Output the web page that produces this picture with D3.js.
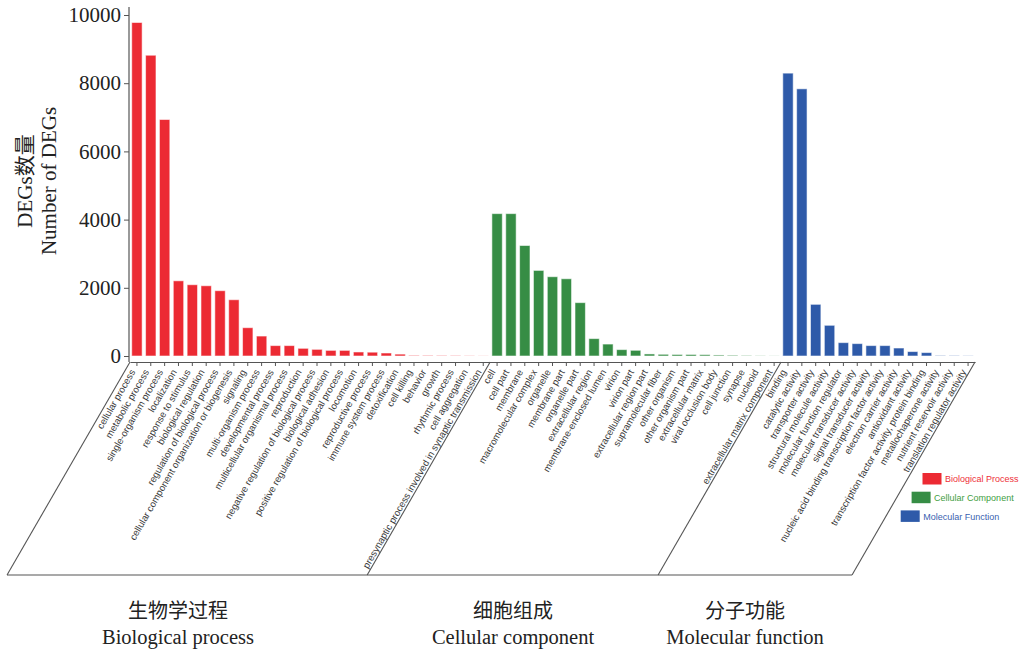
<!DOCTYPE html>
<html>
<head>
<meta charset="utf-8">
<script src="https://cdn.jsdelivr.net/npm/d3@7/dist/d3.min.js"></script>
<style>
  html, body { margin: 0; padding: 0; background: #fff; }
  svg { display: block; }
</style>
</head>
<body>
<svg id="chart" width="1023" height="654"></svg>
<script>
// GO annotation of DEGs: three ontology groups
const bpTerms = [
  "cellular process", "metabolic process", "single-organism process", "localization",
  "response to stimulus", "biological regulation", "regulation of biological process",
  "cellular component organization or biogenesis", "signaling", "multi-organism process",
  "developmental process", "multicellular organismal process", "reproduction",
  "negative regulation of biological process", "biological adhesion",
  "positive regulation of biological process", "locomotion", "reproductive process",
  "immune system process", "detoxification", "cell killing", "behavior", "growth",
  "rhythmic process", "cell aggregation", "presynaptic process involved in synaptic transmission"
];
const bpValues = [9780, 8820, 6935, 2205, 2090, 2060, 1915, 1650, 830, 585, 305, 305, 225,
  195, 165, 165, 118, 112, 88, 55, 15, 12, 10, 8, 5, 3];

const ccTerms = [
  "cell", "cell part", "membrane", "macromolecular complex", "organelle", "membrane part",
  "organelle part", "extracellular region", "membrane-enclosed lumen", "virion", "virion part",
  "extracellular region part", "supramolecular fiber", "other organism", "other organism part",
  "extracellular matrix", "viral occlusion body", "cell junction", "synapse", "nucleoid",
  "extracellular matrix component"
];
const ccValues = [4175, 4175, 3240, 2510, 2325, 2265, 1565, 510, 350, 187, 167, 60, 50, 45,
  45, 40, 30, 20, 10, 5, 3];

const mfTerms = [
  "binding", "catalytic activity", "transporter activity", "structural molecule activity",
  "molecular function regulator", "molecular transducer activity", "signal transducer activity",
  "nucleic acid binding transcription factor activity", "electron carrier activity",
  "antioxidant activity", "transcription factor activity, protein binding",
  "metallochaperone activity", "nutrient reservoir activity", "translation regulator activity"
];
const mfValues = [8295, 7835, 1515, 900, 392, 363, 305, 305, 234, 130, 100, 10, 8, 5];

const yTicks = [0, 2000, 4000, 6000, 8000, 10000];
const groupNames = ["Biological Process", "Cellular Component", "Molecular Function"];
const groupTitlesZh = ["生物学过程", "细胞组成", "分子功能"];
const groupTitlesEn = ["Biological process", "Cellular component", "Molecular function"];
const yTitleZh = "DEGs数量";
const yTitleEn = "Number of DEGs";

const groupColors = ["#ec2a33", "#368d45", "#2e5aa9"];
const legendTextColors = ["#ee3038", "#3f9e3f", "#3a5fb0"];

const groups = [
  { terms: bpTerms, values: bpValues },
  { terms: ccTerms, values: ccValues },
  { terms: mfTerms, values: mfValues }
];

const rows = [];
groups.forEach((g, gi) => g.terms.forEach((t, i) =>
  rows.push({ key: gi + ":" + t, term: t, value: g.values[i], group: gi })));

const svg = d3.select("#chart");
const serif = "'Liberation Serif', 'Times New Roman', 'Noto Sans CJK SC', serif";
const sans = "'Liberation Sans', Arial, sans-serif";

const x0 = 130, x1 = 975, yBase = 356, yTop = 15, xAxisY = 362, floorY = 575;

const x = d3.scaleBand()
  .domain(rows.map(d => d.key))
  .range([x0, x1])
  .paddingInner(0.25)
  .paddingOuter(0.125);

const y = d3.scaleLinear().domain([0, 10000]).range([yBase, yTop]);

// bars
svg.append("g").selectAll("rect")
  .data(rows)
  .join("rect")
  .attr("x", d => x(d.key))
  .attr("width", x.bandwidth())
  .attr("y", d => y(d.value))
  .attr("height", d => yBase - y(d.value))
  .attr("fill", d => groupColors[d.group])
  .attr("stroke", "rgba(255,255,255,0.55)")
  .attr("stroke-width", 1);

// y axis
const yAxis = svg.append("g")
  .attr("transform", `translate(${x0 - 1},0)`)
  .call(d3.axisLeft(y).tickValues(yTicks).tickSize(5).tickPadding(3).tickFormat(d3.format("d")));
yAxis.select(".domain").remove();
yAxis.append("line")
  .attr("x1", 0).attr("x2", 0).attr("y1", 7).attr("y2", xAxisY)
  .attr("stroke", "#555").attr("stroke-width", 1.2);
yAxis.selectAll(".tick line").attr("stroke", "#555");
yAxis.selectAll(".tick text")
  .attr("font-family", serif).attr("font-size", 21).attr("fill", "#222");

// x axis with slanted term labels
const xAxis = svg.append("g")
  .attr("transform", `translate(0,${xAxisY})`)
  .call(d3.axisBottom(x).tickSize(4).tickSizeOuter(0).tickFormat(k => rows.find(r => r.key === k).term));
xAxis.select(".domain").attr("stroke", "#555").attr("stroke-width", 1.2);
xAxis.selectAll(".tick line").attr("stroke", "#555");
xAxis.selectAll(".tick text")
  .attr("font-family", sans).attr("font-size", 9.6).attr("fill", "#3a3a3a")
  .attr("x", 0).attr("y", 0).attr("dy", "0.2em")
  .attr("text-anchor", "end")
  .attr("transform", "translate(-3,9) rotate(-60)");

// group separators running down at the label slant, and the floor line
const slant = (floorY - xAxisY) / Math.tan(60 * Math.PI / 180);
let cum = 0;
const bounds = [x0];
groups.forEach(g => { cum += g.terms.length; bounds.push(x0 + cum * x.step()); });
const frame = svg.append("g").attr("stroke", "#555").attr("stroke-width", 1.1).attr("fill", "none");
frame.selectAll("line.sep")
  .data(bounds)
  .join("line")
  .attr("class", "sep")
  .attr("x1", d => d).attr("y1", xAxisY)
  .attr("x2", d => d - slant).attr("y2", floorY);
frame.append("line")
  .attr("x1", bounds[0] - slant).attr("x2", bounds[bounds.length - 1] - slant)
  .attr("y1", floorY).attr("y2", floorY);

// group titles under the floor
const titleX = [178, 513, 745];
const titles = svg.append("g").attr("font-family", serif).attr("fill", "#222").attr("text-anchor", "middle");
titles.selectAll("text.zh").data(groupTitlesZh).join("text")
  .attr("class", "zh").attr("x", (d, i) => titleX[i]).attr("y", 618)
  .attr("font-size", 20).text(d => d);
titles.selectAll("text.en").data(groupTitlesEn).join("text")
  .attr("class", "en").attr("x", (d, i) => titleX[i]).attr("y", 644)
  .attr("font-size", 20.5).text(d => d);

// y axis title
const yTitle = svg.append("g").attr("font-family", serif).attr("fill", "#222").attr("text-anchor", "middle");
yTitle.append("text").attr("transform", "translate(32,181) rotate(-90)")
  .attr("font-size", 21).text(yTitleZh);
yTitle.append("text").attr("transform", "translate(56,181) rotate(-90)")
  .attr("font-size", 21).text(yTitleEn);

// legend, stepped along the slant
const legend = svg.append("g");
const legendItems = legend.selectAll("g").data(groupNames).join("g")
  .attr("transform", (d, i) => `translate(${922.5 - i * 10.9},${473 + i * 18.7})`);
legendItems.append("rect")
  .attr("width", 19).attr("height", 11.5)
  .attr("fill", (d, i) => groupColors[i]);
legendItems.append("text")
  .attr("x", 22.5).attr("y", 6).attr("dy", "0.35em")
  .attr("font-family", sans).attr("font-size", 9)
  .attr("fill", (d, i) => legendTextColors[i])
  .text(d => d);
</script>
</body>
</html>
